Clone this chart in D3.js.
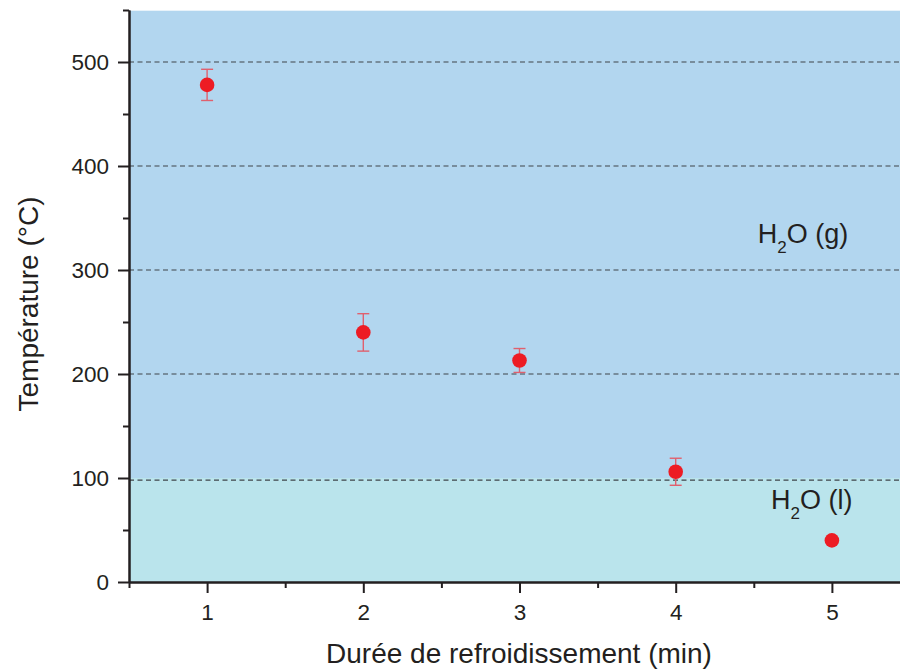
<!DOCTYPE html>
<html><head><meta charset="utf-8">
<script src="https://cdn.jsdelivr.net/npm/d3@7"></script>
<style>body{margin:0;background:#fff}svg{display:block}text{font-family:"Liberation Sans",Arial,sans-serif;fill:#231f20}</style>
</head><body><svg id="c" width="900" height="671"></svg>
<script>
const durations = [1, 2, 3, 4, 5];
const temperatures = [478, 240, 213, 106, 40];
const errors = [15, 18, 11.5, 13, 0];
const yMajorTicks = [0, 100, 200, 300, 400, 500];
const yMinorTicks = [50, 150, 250, 350, 450, 550];
const xMajorTicks = [1, 2, 3, 4, 5];
const xMinorTicks = [0.5, 1.5, 2.5, 3.5, 4.5, 5.5];
const gridValues = [500, 400, 300, 200, 98];
const phaseBoundary = 100;
const phaseLabels = [{main: "H", sub: "2", rest: "O (g)", x: 4.525, y: 326}, {main: "H", sub: "2", rest: "O (l)", x: 4.61, y: 70}];

const svg = d3.select("#c");
const x = d3.scaleLinear().domain([0.5, 5.5]).range([129, 910]);
const y = d3.scaleLinear().domain([0, 550]).range([582, 10]);

// backgrounds
svg.append("rect").attr("x", x(0.5)).attr("y", y(550)+0.7).attr("width", 900 - x(0.5)).attr("height", y(phaseBoundary) - y(550) - 0.7).attr("fill", "#b2d6ef");
svg.append("rect").attr("x", x(0.5)).attr("y", y(phaseBoundary)).attr("width", 900 - x(0.5)).attr("height", y(0) - y(phaseBoundary)).attr("fill", "#bae4ec");

// grid
svg.append("g").selectAll("line").data(gridValues).join("line")
  .attr("x1", x(0.5)).attr("x2", 900).attr("y1", d => y(d)).attr("y2", d => y(d))
  .attr("stroke", "#3f444a").attr("stroke-width", 1.2).attr("stroke-dasharray", "5,3.5");

// error bars
const eb = svg.append("g").attr("stroke", "#e0606e").attr("stroke-width", 1.4);
durations.forEach((d, i) => {
  if (!errors[i]) return;
  const cx = x(d), t = y(temperatures[i] + errors[i]), b = y(temperatures[i] - errors[i]);
  eb.append("line").attr("x1", cx).attr("x2", cx).attr("y1", t).attr("y2", b);
  eb.append("line").attr("x1", cx-6).attr("x2", cx+6).attr("y1", t).attr("y2", t);
  eb.append("line").attr("x1", cx-6).attr("x2", cx+6).attr("y1", b).attr("y2", b);
});

// points
svg.append("g").selectAll("circle").data(durations).join("circle")
  .attr("cx", d => x(d)).attr("cy", (d, i) => y(temperatures[i])).attr("r", 7.3).attr("fill", "#ed1c24");

// axes
function styleAxis(g) {
  g.selectAll("path, line").attr("stroke", "#231f20").attr("stroke-width", 2);
  g.selectAll("text").style("font-size", "22.5px").attr("fill", "#231f20");
}
svg.append("g").attr("transform", `translate(${x(0.5)},0)`)
  .call(d3.axisLeft(y).tickValues(yMinorTicks).tickSize(6).tickFormat("").tickSizeOuter(0)).call(styleAxis);
svg.append("g").attr("transform", `translate(${x(0.5)},0)`)
  .call(d3.axisLeft(y).tickValues(yMajorTicks).tickSize(11).tickPadding(9).tickSizeOuter(0).tickFormat(d3.format("d"))).call(styleAxis);
svg.append("g").attr("transform", `translate(0,${y(0)})`)
  .call(d3.axisBottom(x).tickValues(xMinorTicks).tickSize(6).tickFormat("").tickSizeOuter(0)).call(styleAxis);
svg.append("g").attr("transform", `translate(0,${y(0)})`)
  .call(d3.axisBottom(x).tickValues(xMajorTicks).tickSize(11).tickPadding(11).tickSizeOuter(0).tickFormat(d3.format("d"))).call(styleAxis);

// titles
svg.append("text").attr("x", 519).attr("y", 663).attr("text-anchor", "middle").style("font-size", "28px").text("Durée de refroidissement (min)");
svg.append("text").attr("transform", "translate(38,304) rotate(-90)").attr("text-anchor", "middle").style("font-size", "28px").text("Température (°C)");

// phase labels
phaseLabels.forEach(p => {
  const t = svg.append("text").attr("x", x(p.x)).attr("y", y(p.y)).style("font-size", "27px");
  t.append("tspan").text(p.main);
  t.append("tspan").attr("dy", 10).style("font-size", "17px").text(p.sub);
  t.append("tspan").attr("dy", -10).text(p.rest);
});
</script></body></html>
